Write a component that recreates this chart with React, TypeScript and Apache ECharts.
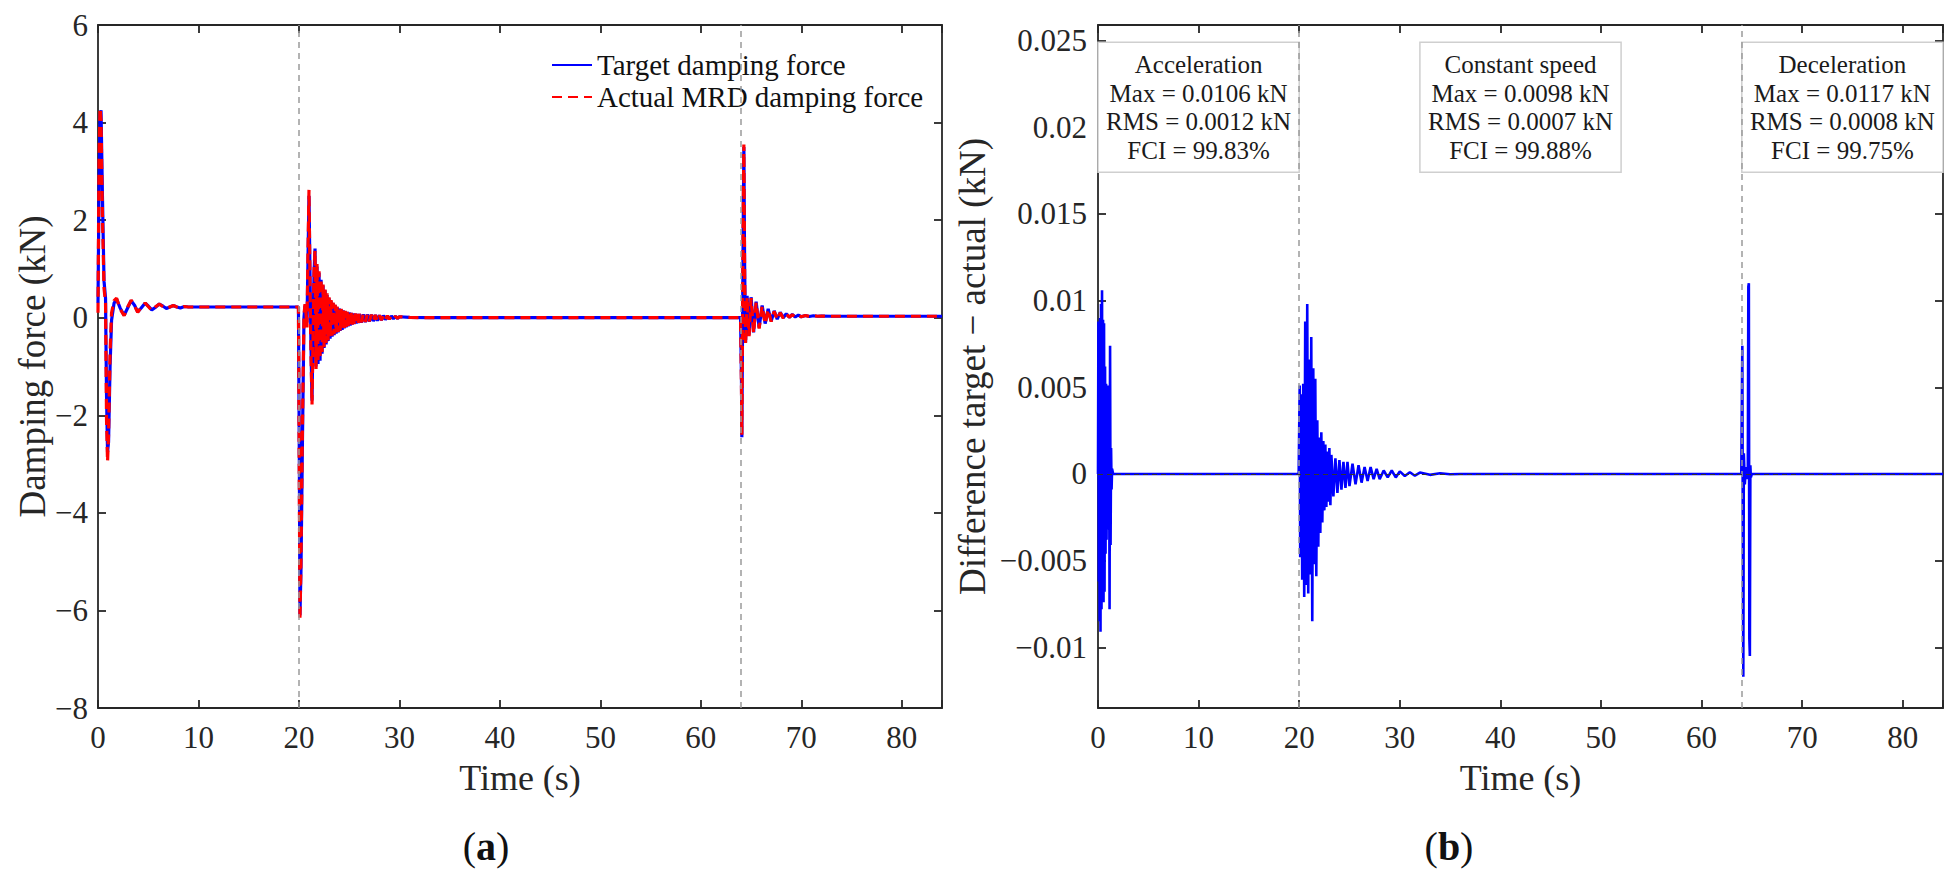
import { useEffect, useRef } from "react";
import * as echarts from "echarts";

// ---- (a) damping force records, split by driving phase ----
const accelTime = [0, 0.1, 0.2, 0.3, 0.45, 0.6, 0.75, 0.85, 0.95, 1.05, 1.2, 1.35, 1.6, 1.85, 2.2, 2.6, 2.95, 3.3, 3.65, 3.95, 4.3, 4.7, 5.0, 5.35, 5.7, 6.1, 6.45, 6.8, 7.15, 7.5, 7.85, 8.2, 8.6, 9.0, 10, 19.95];
const accelTarget = [0.3, 2.6, 4.15, 4.25, 2.4, 0.75, 0.4, -1.6, -2.75, -2.55, -1.0, -0.05, 0.3, 0.38, 0.2, 0.05, 0.2, 0.35, 0.25, 0.12, 0.2, 0.3, 0.24, 0.16, 0.21, 0.28, 0.24, 0.19, 0.22, 0.25, 0.22, 0.2, 0.23, 0.22, 0.22, 0.22];
const accelActual = [0.1, 3.3, 4.3, 4.05, 2.0, 0.6, 0.3, -2.1, -2.95, -2.4, -0.7, 0.1, 0.35, 0.4, 0.18, 0.04, 0.22, 0.36, 0.24, 0.11, 0.21, 0.3, 0.23, 0.15, 0.22, 0.28, 0.23, 0.19, 0.22, 0.25, 0.22, 0.2, 0.23, 0.22, 0.22, 0.22];

const cruiseTime = [
  20.0, 20.04, 20.1, 20.2, 20.35, 20.5, 20.6, 20.7, 20.8, 20.9,
  21.0, 21.1, 21.2, 21.3, 21.4, 21.5, 21.6, 21.7, 21.8, 21.9,
  22.0, 22.1, 22.2, 22.3, 22.4, 22.5, 22.6, 22.7, 22.8, 22.9,
  23.0, 23.1, 23.2, 23.3, 23.4, 23.5, 23.6, 23.7, 23.8, 23.9,
  24.0, 24.1, 24.2, 24.3, 24.4, 24.5, 24.6, 24.7, 24.8, 24.9,
  25.0, 25.1, 25.2, 25.3, 25.4, 25.5, 25.6, 25.7, 25.8, 25.9,
  26.0, 26.2, 26.4, 26.6, 26.8, 27.0, 27.2, 27.4, 27.6, 27.8,
  28.0, 28.2, 28.4, 28.6, 28.8, 29.0, 29.2, 29.4, 29.6, 29.8,
  30.0, 31.0, 33.0, 63.95,
];
const cruiseTarget = [
  0.22, -3.0, -6.1, -5.2, -2.5, 0.0, 0.25, 0.15, -0.1, 1.2,
  2.5, 0.9, -0.6, -1.7, -0.3, 0.9, 1.42, -1.0, 1.05, -0.95,
  0.92, -0.88, 0.78, -0.74, 0.66, -0.62, 0.56, -0.55, 0.47, -0.48,
  0.4, -0.43, 0.34, -0.39, 0.3, -0.36, 0.26, -0.33, 0.22, -0.3,
  0.19, -0.27, 0.17, -0.25, 0.15, -0.22, 0.13, -0.2, 0.12, -0.18,
  0.11, -0.16, 0.1, -0.14, 0.09, -0.13, 0.085, -0.12, 0.08, -0.11,
  0.075, -0.1, 0.07, -0.09, 0.065, -0.08, 0.06, -0.07, 0.055, -0.06,
  0.05, -0.05, 0.045, -0.04, 0.04, -0.03, 0.035, -0.02, 0.03, -0.015,
  0.02, 0.005, 0.0, 0.0,
];
const cruiseActual = [
  0.22, -3.6, -6.2, -5.0, -2.2, 0.05, 0.28, 0.1, -0.2, 1.4,
  2.62, 0.7, -0.8, -1.78, -0.4, 1.0, 1.38, -1.05, 1.1, -0.9,
  0.95, -0.84, 0.8, -0.7, 0.68, -0.6, 0.58, -0.52, 0.5, -0.46,
  0.42, -0.41, 0.36, -0.37, 0.31, -0.34, 0.27, -0.31, 0.23, -0.29,
  0.2, -0.26, 0.18, -0.24, 0.16, -0.21, 0.14, -0.19, 0.12, -0.17,
  0.115, -0.15, 0.1, -0.14, 0.095, -0.125, 0.09, -0.115, 0.08, -0.105,
  0.078, -0.095, 0.072, -0.085, 0.066, -0.075, 0.06, -0.068, 0.055, -0.058,
  0.05, -0.048, 0.046, -0.038, 0.04, -0.028, 0.034, -0.02, 0.03, -0.012,
  0.02, 0.006, 0.0, 0.0,
];

const brakeTime = [64.0, 64.04, 64.08, 64.14, 64.22, 64.28, 64.36, 64.45, 64.6, 64.8, 65.0, 65.25, 65.5, 65.8, 66.1, 66.4, 66.7, 67.0, 67.3, 67.6, 67.9, 68.2, 68.5, 68.8, 69.1, 69.4, 69.7, 70.0, 70.4, 70.8, 71.2, 71.6, 72.0, 73.0, 84.0];
const brakeTarget = [0.0, -1.2, -2.45, -0.5, 2.0, 3.5, 1.0, -0.5, 0.45, -0.35, 0.42, -0.3, 0.33, -0.2, 0.25, -0.12, 0.18, -0.07, 0.14, -0.03, 0.11, 0.0, 0.08, 0.01, 0.065, 0.015, 0.055, 0.02, 0.045, 0.025, 0.04, 0.03, 0.035, 0.03, 0.03];
const brakeActual = [0.0, -1.4, -2.4, -0.3, 2.3, 3.55, 0.8, -0.55, 0.42, -0.38, 0.4, -0.32, 0.31, -0.22, 0.24, -0.13, 0.17, -0.08, 0.13, -0.04, 0.1, -0.01, 0.08, 0.01, 0.06, 0.015, 0.05, 0.02, 0.045, 0.025, 0.04, 0.03, 0.035, 0.03, 0.03];

// ---- (b) target minus actual force ----
const accelDiffTime = [0, 0.04, 0.08, 0.12, 0.16, 0.2, 0.25, 0.3, 0.35, 0.4, 0.45, 0.5, 0.55, 0.6, 0.65, 0.7, 0.75, 0.8, 0.85, 0.9, 0.95, 1.0, 1.05, 1.1, 1.15, 1.2, 1.25, 1.3, 1.35, 1.4, 1.5, 19.95];
const accelDiff = [0, 0.0088, -0.0062, 0.0082, -0.0085, 0.009, -0.0091, 0.0098, -0.0078, 0.0106, -0.0072, 0.0089, -0.0074, 0.0087, -0.0068, 0.0062, -0.0046, 0.0052, -0.0038, 0.0049, -0.0032, 0.0051, -0.0024, 0.0036, -0.0078, 0.0074, -0.0041, 0.0015, -0.0009, 0.0003, 0, 0];

const cruiseDiffTime = [
  20.0, 20.05, 20.1, 20.2, 20.3, 20.4, 20.5, 20.6, 20.7, 20.8,
  20.9, 21.0, 21.1, 21.2, 21.3, 21.4, 21.5, 21.6, 21.7, 21.8,
  21.9, 22.0, 22.1, 22.2, 22.3, 22.4, 22.5, 22.6, 22.7, 22.8,
  22.9, 23.0, 23.1, 23.2, 23.4, 23.6, 23.8, 24.0, 24.2, 24.4,
  24.6, 24.8, 25.0, 25.3, 25.6, 25.9, 26.2, 26.5, 26.8, 27.1,
  27.4, 27.7, 28.0, 28.4, 28.8, 29.2, 29.6, 30.0, 30.5, 31.0,
  31.5, 32.0, 33.0, 34.0, 35.0, 36.0, 63.95,
];
const cruiseDiff = [
  0, 0.0051, -0.0048, 0.0046, -0.0061, 0.0052, -0.0071, 0.0088, -0.0064, 0.0098,
  -0.0069, 0.0066, -0.0058, 0.0079, -0.0085, 0.0061, -0.0052, 0.0055, -0.0059, 0.0031,
  -0.0042, 0.0021, -0.0034, 0.0024, -0.0028, 0.0019, -0.0021, 0.0017, -0.0019, 0.0013,
  -0.0016, 0.0015, -0.0018, 0.0011, -0.0013, 0.0009, -0.0011, 0.0008, -0.0009, 0.0007,
  -0.0008, 0.0007, -0.0007, 0.0006, -0.0006, 0.0005, -0.0005, 0.0004, -0.0004, 0.0004,
  -0.0003, 0.0003, -0.0003, 0.0002, -0.0002, 0.0002, -0.0002, 0.00015, -0.00012, 0.0001,
  -0.0001, 0.00008, -0.00005, 0.00004, -0.00002, 0, 0,
];

const brakeDiffTime = [64.0, 64.05, 64.1, 64.15, 64.2, 64.3, 64.4, 64.5, 64.6, 64.65, 64.7, 64.75, 64.8, 64.85, 64.9, 65.0, 84.0];
const brakeDiff = [0, 0.0074, -0.0035, -0.0117, 0.0012, -0.0006, 0.0004, -0.0003, 0.0002, 0.0108, 0.011, -0.0095, -0.0105, 0.0005, -0.0002, 0, 0];

// Phase boundaries (s) and per-phase error statistics
const phaseBounds = [20, 64];
const phaseNames = ["Acceleration", "Constant speed", "Deceleration"];
const phaseMax = [0.0106, 0.0098, 0.0117];
const phaseRms = [0.0012, 0.0007, 0.0008];
const phaseFci = [99.83, 99.88, 99.75];
const phaseBoxSpan = [[0, 20], [32, 52], [64, 84]];
const phaseBoxLevels = [0.0174, 0.0249];

const SERIF = "'Liberation Serif', 'Times New Roman', serif";
const INK = "#262626";

const pairs = (t: number[], v: number[]) => t.map((x, i) => [x, v[i]]);

const targetData = [...pairs(accelTime, accelTarget), ...pairs(cruiseTime, cruiseTarget), ...pairs(brakeTime, brakeTarget)];
const actualData = [...pairs(accelTime, accelActual), ...pairs(cruiseTime, cruiseActual), ...pairs(brakeTime, brakeActual)];
const diffData = [...pairs(accelDiffTime, accelDiff), ...pairs(cruiseDiffTime, cruiseDiff), ...pairs(brakeDiffTime, brakeDiff)];

// Label only exact multiples of the step, with a typographic minus
const tickText = (step: number) => (v: number) => {
  const k = v / step;
  if (Math.abs(k - Math.round(k)) > 1e-6) return "";
  const s = String(parseFloat((Math.round(k) * step).toFixed(6)));
  return s.replace("-", "\u2212");
};

const frame = {
  type: "value" as const,
  axisLine: { show: true, onZero: false, lineStyle: { color: INK, width: 1.8 } },
  axisTick: { show: true, inside: true, length: 8, lineStyle: { color: INK, width: 1.8 } },
  splitLine: { show: false },
};
const tickFont = { fontSize: 31, fontFamily: SERIF, color: INK };
const xNameFont = { fontSize: 36, fontFamily: SERIF, color: INK };
const yNameFont = { fontSize: 37, fontFamily: SERIF, color: INK };

export default function App() {
  const ref = useRef<HTMLDivElement>(null);

  useEffect(() => {
    if (!ref.current) return;
    const chart = echarts.init(ref.current, undefined, { renderer: "svg" });

    const timeX = (grid: number) => [
      {
        ...frame,
        gridIndex: grid,
        min: 0,
        max: 84,
        interval: 10,
        position: "bottom",
        axisLabel: { ...tickFont, margin: 14, formatter: tickText(10) },
        name: "Time (s)",
        nameLocation: "middle",
        nameGap: 52,
        nameTextStyle: xNameFont,
      },
      {
        ...frame,
        gridIndex: grid,
        min: 0,
        max: 84,
        interval: 10,
        position: "top",
        axisLabel: { show: false },
      },
    ];

    const option = {
      animation: false,
      backgroundColor: "#ffffff",
      grid: [
        { left: 98, top: 25, width: 844, height: 683 },
        { left: 1098, top: 25, width: 845, height: 683 },
      ],
      xAxis: [...timeX(0), ...timeX(1)],
      yAxis: [
        {
          ...frame,
          gridIndex: 0,
          min: -8,
          max: 6,
          interval: 2,
          position: "left",
          axisLabel: { ...tickFont, margin: 10, formatter: tickText(2) },
          name: "Damping force (kN)",
          nameLocation: "middle",
          nameRotate: 90,
          nameGap: 47,
          nameTextStyle: yNameFont,
        },
        { ...frame, gridIndex: 0, min: -8, max: 6, interval: 2, position: "right", axisLabel: { show: false } },
        {
          ...frame,
          gridIndex: 1,
          min: -0.0135,
          max: 0.0259,
          minInterval: 0.005,
          maxInterval: 0.005,
          position: "left",
          axisLabel: { ...tickFont, margin: 11, formatter: tickText(0.005) },
          name: "Difference target \u2212 actual (kN)",
          nameLocation: "middle",
          nameRotate: 90,
          nameGap: 107,
          nameTextStyle: yNameFont,
        },
        {
          ...frame,
          gridIndex: 1,
          min: -0.0135,
          max: 0.0259,
          minInterval: 0.005,
          maxInterval: 0.005,
          position: "right",
          axisLabel: { show: false },
        },
      ],
      legend: {
        data: ["Target damping force", "Actual MRD damping force"],
        orient: "vertical",
        left: 546,
        top: 45,
        itemWidth: 40,
        itemHeight: 16,
        itemGap: 2,
        selectedMode: false,
        itemStyle: { opacity: 0, borderWidth: 0 },
        textStyle: { fontSize: 29, fontFamily: SERIF, color: "#111", lineHeight: 30 },
      },
      series: [
        {
          name: "Target damping force",
          type: "line",
          xAxisIndex: 0,
          yAxisIndex: 0,
          data: targetData,
          symbol: "none",
          showSymbol: false,
          z: 2,
          lineStyle: { color: "#0000ff", width: 3.2 },
          itemStyle: { color: "#0000ff" },
          markLine: {
            silent: true,
            symbol: ["none", "none"],
            label: { show: false },
            lineStyle: { color: "#9a9a9a", type: [6, 5], width: 1.5 },
            data: phaseBounds.map((x) => ({ xAxis: x })),
          },
        },
        {
          name: "Actual MRD damping force",
          type: "line",
          xAxisIndex: 0,
          yAxisIndex: 0,
          data: actualData,
          symbol: "none",
          showSymbol: false,
          z: 3,
          lineStyle: { color: "#ff0000", width: 3.2, type: [10, 6] },
          itemStyle: { color: "#ff0000" },
        },
        {
          name: "Difference",
          type: "line",
          xAxisIndex: 2,
          yAxisIndex: 2,
          data: diffData,
          symbol: "none",
          showSymbol: false,
          z: 2,
          lineStyle: { color: "#0000ff", width: 2.6 },
          itemStyle: { color: "#0000ff" },
          markArea: {
            silent: true,
            itemStyle: { color: "#ffffff", borderColor: "#cfcfcf", borderWidth: 1.5 },
            label: {
              show: true,
              position: "inside",
              formatter: "{b}",
              fontSize: 25,
              lineHeight: 28.5,
              fontFamily: SERIF,
              color: "#1a1a1a",
            },
            data: phaseBoxSpan.map((span, i) => [
              {
                name: `${phaseNames[i]}\nMax = ${phaseMax[i].toFixed(4)} kN\nRMS = ${phaseRms[i].toFixed(4)} kN\nFCI = ${phaseFci[i].toFixed(2)}%`,
                xAxis: span[0],
                yAxis: phaseBoxLevels[0],
              },
              { xAxis: span[1], yAxis: phaseBoxLevels[1] },
            ]),
          },
          markLine: {
            silent: true,
            symbol: ["none", "none"],
            label: { show: false },
            lineStyle: { color: "#9a9a9a", type: [6, 5], width: 1.5 },
            data: [
              ...phaseBounds.map((x) => ({ xAxis: x })),
              { yAxis: 0, lineStyle: { color: "#333333", type: [5, 4], width: 1.2 } },
            ],
          },
        },
      ],
      graphic: [
        {
          type: "text",
          x: 486,
          y: 846,
          style: {
            text: "{p|(}{b|a}{p|)}",
            align: "center",
            verticalAlign: "middle",
            rich: {
              p: { fontSize: 40, fontFamily: SERIF, fill: "#111" },
              b: { fontSize: 40, fontFamily: SERIF, fontWeight: "bold", fill: "#111" },
            },
          },
        },
        {
          type: "text",
          x: 1449,
          y: 846,
          style: {
            text: "{p|(}{b|b}{p|)}",
            align: "center",
            verticalAlign: "middle",
            rich: {
              p: { fontSize: 40, fontFamily: SERIF, fill: "#111" },
              b: { fontSize: 40, fontFamily: SERIF, fontWeight: "bold", fill: "#111" },
            },
          },
        },
      ],
    };

    chart.setOption(option as any);
    return () => chart.dispose();
  }, []);

  return (
    <div
      ref={ref}
      style={{ position: "absolute", left: 0, top: 0, width: 1957, height: 883, background: "#fff" }}
    />
  );
}
